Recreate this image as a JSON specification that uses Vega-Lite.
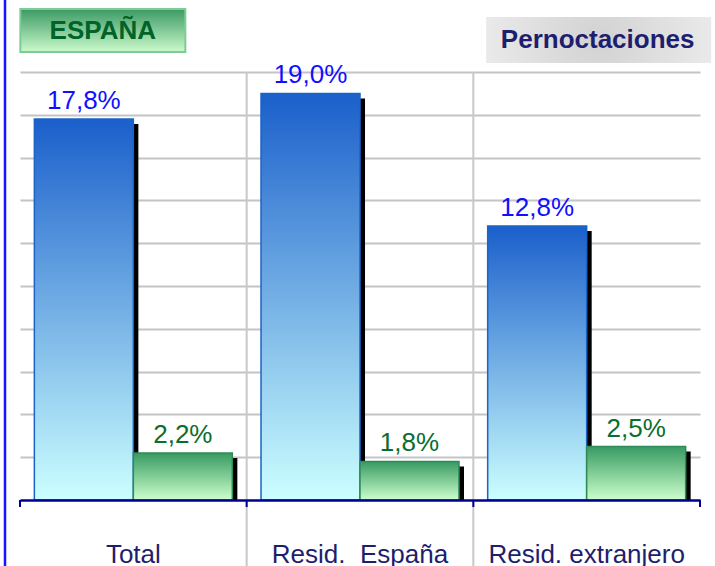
{
  "$schema": "https://vega.github.io/schema/vega-lite/v6.json",
  "width": 680,
  "height": 428,
  "autosize": "none",
  "padding": {"left": 20, "top": 72, "right": 15, "bottom": 66},
  "background": "white",
  "config": {"view": {"stroke": null}, "font": "Liberation Sans"},
  "datasets": {
    "barras": [
      {"cat": "Total", "serie": "A", "valor": 17.8, "etiqueta": "17,8%"},
      {"cat": "Total", "serie": "B", "valor": 2.2, "etiqueta": "2,2%"},
      {"cat": "Resid.\u00a0 España", "serie": "A", "valor": 19.0, "etiqueta": "19,0%"},
      {"cat": "Resid.\u00a0 España", "serie": "B", "valor": 1.8, "etiqueta": "1,8%"},
      {"cat": "Resid. extranjero", "serie": "A", "valor": 12.8, "etiqueta": "12,8%"},
      {"cat": "Resid. extranjero", "serie": "B", "valor": 2.5, "etiqueta": "2,5%"}
    ],
    "notas": [
      {"cat": "Total", "texto": "ESPAÑA"},
      {"cat": "Resid. extranjero", "texto": "Pernoctaciones"}
    ]
  },
  "resolve": {"scale": {"xOffset": "independent"}},
  "layer": [
    {
      "data": {"name": "barras"},
      "transform": [{"filter": "datum.serie == 'A' && datum.cat != 'Total'"}],
      "mark": {"type": "rule", "color": "#C8C8C8", "strokeWidth": 2},
      "encoding": {
        "x": {
          "field": "cat", "type": "nominal", "bandPosition": 0,
          "scale": {"domain": ["Total", "Resid.\u00a0 España", "Resid. extranjero"], "paddingInner": 0, "paddingOuter": 0},
          "axis": {
            "title": null, "grid": false, "ticks": false, "bandPosition": 0.5,
            "domainColor": "#000090", "domainWidth": 2.5,
            "labelFontSize": 26, "labelColor": "#1E1E6E", "labelPadding": 41,
            "labelAngle": 0, "labelLimit": 0, "zindex": 1
          }
        },
        "y": {
          "datum": 20,
          "scale": {"domain": [0, 20], "nice": false},
          "axis": {
            "title": null, "domain": false, "ticks": false, "labels": false,
            "grid": true, "gridColor": "#C4C4C4", "gridWidth": 2,
            "values": [2, 4, 6, 8, 10, 12, 14, 16, 18, 20]
          }
        },
        "y2": {"datum": -3.2}
      }
    },
    {
      "data": {"name": "barras"},
      "transform": [{"filter": "datum.cat == 'Total' && datum.serie == 'A'"}],
      "mark": {"type": "rule", "color": "#1515FF", "strokeWidth": 2.5, "xOffset": -15},
      "encoding": {
        "x": {"field": "cat", "type": "nominal", "bandPosition": 0},
        "y": {"datum": 23.5},
        "y2": {"datum": -3.2}
      }
    },
    {
      "data": {"name": "barras"},
      "mark": {"type": "bar", "color": "black", "yOffset": 5},
      "encoding": {
        "x": {"field": "cat", "type": "nominal"},
        "xOffset": {
          "field": "serie", "type": "nominal",
          "scale": {"domain": ["A", "B"], "paddingInner": 0, "paddingOuter": 0.145, "align": 0.675}
        },
        "y": {"field": "valor", "type": "quantitative"},
        "y2": {"datum": 0}
      }
    },
    {
      "layer": [
        {
          "data": {"name": "barras"},
          "transform": [{"filter": "datum.serie == 'A'"}],
          "mark": {
            "type": "bar",
            "stroke": "#1A64C8",
            "strokeWidth": 1.5,
            "fill": {
              "gradient": "linear", "x1": 0, "y1": 0, "x2": 0, "y2": 1,
              "stops": [
                {"offset": 0, "color": "#1A5FCB"},
                {"offset": 1, "color": "#CCFFFF"}
              ]
            }
          },
          "encoding": {
            "x": {"field": "cat", "type": "nominal"},
            "xOffset": {
              "field": "serie", "type": "nominal",
              "scale": {"domain": ["A", "B"], "paddingInner": 0, "paddingOuter": 0.145}
            },
            "y": {"field": "valor", "type": "quantitative"}
          }
        },
        {
          "data": {"name": "barras"},
          "transform": [{"filter": "datum.serie == 'B'"}],
          "mark": {
            "type": "bar",
            "stroke": "#2E8B57",
            "strokeWidth": 1.5,
            "fill": {
              "gradient": "linear", "x1": 0, "y1": 0, "x2": 0, "y2": 1,
              "stops": [
                {"offset": 0, "color": "#389A62"},
                {"offset": 1, "color": "#CCFFCC"}
              ]
            }
          },
          "encoding": {
            "x": {"field": "cat", "type": "nominal"},
            "xOffset": {"field": "serie", "type": "nominal"},
            "y": {"field": "valor", "type": "quantitative"}
          }
        },
        {
          "data": {"name": "barras"},
          "mark": {"type": "text", "baseline": "alphabetic", "dy": -10, "fontSize": 26},
          "encoding": {
            "x": {"field": "cat", "type": "nominal"},
            "xOffset": {"field": "serie", "type": "nominal"},
            "y": {"field": "valor", "type": "quantitative"},
            "text": {"field": "etiqueta"},
            "color": {
              "field": "serie", "type": "nominal",
              "scale": {"domain": ["A", "B"], "range": ["#1010FF", "#0A6E2E"]},
              "legend": null
            }
          }
        }
      ]
    },
    {
      "data": {"name": "barras"},
      "transform": [{"filter": "datum.serie == 'A'"}],
      "mark": {"type": "rule", "color": "#000090", "strokeWidth": 2},
      "encoding": {
        "x": {"field": "cat", "type": "nominal", "bandPosition": 0},
        "y": {"datum": 0},
        "y2": {"datum": -0.33}
      }
    },
    {
      "data": {"name": "barras"},
      "transform": [{"filter": "datum.serie == 'A' && datum.cat == 'Resid. extranjero'"}],
      "mark": {"type": "rule", "color": "#000090", "strokeWidth": 2},
      "encoding": {
        "x": {"field": "cat", "type": "nominal", "bandPosition": 1},
        "y": {"datum": 0},
        "y2": {"datum": -0.33}
      }
    },
    {
      "data": {"name": "notas"},
      "transform": [{"filter": "datum.texto == 'ESPAÑA'"}],
      "mark": {
        "type": "rect", "width": 165, "xOffset": -30.5,
        "stroke": "#7CCC94", "strokeWidth": 2,
        "fill": {
          "gradient": "linear", "x1": 0, "y1": 0, "x2": 0, "y2": 1,
          "stops": [
            {"offset": 0, "color": "#3C9A64"},
            {"offset": 1, "color": "#CCFACC"}
          ]
        }
      },
      "encoding": {
        "x": {"field": "cat", "type": "nominal"},
        "y": {"datum": 22.94},
        "y2": {"datum": 20.93}
      }
    },
    {
      "data": {"name": "notas"},
      "transform": [{"filter": "datum.texto == 'ESPAÑA'"}],
      "mark": {
        "type": "text", "xOffset": -30.5, "fontSize": 26, "fontWeight": "bold",
        "color": "#00642A", "baseline": "middle"
      },
      "encoding": {
        "x": {"field": "cat", "type": "nominal"},
        "y": {"datum": 21.93},
        "text": {"field": "texto"}
      }
    },
    {
      "data": {"name": "notas"},
      "transform": [{"filter": "datum.texto == 'Pernoctaciones'"}],
      "mark": {
        "type": "rect", "width": 225, "xOffset": 12,
        "fill": {
          "gradient": "radial", "x1": 0.5, "y1": 0.5, "r1": 0, "x2": 0.5, "y2": 0.5, "r2": 0.6,
          "stops": [
            {"offset": 0, "color": "#D2D2D2"},
            {"offset": 1, "color": "#EEEEEE"}
          ]
        }
      },
      "encoding": {
        "x": {"field": "cat", "type": "nominal"},
        "y": {"datum": 22.57},
        "y2": {"datum": 20.42}
      }
    },
    {
      "data": {"name": "notas"},
      "transform": [{"filter": "datum.texto == 'Pernoctaciones'"}],
      "mark": {
        "type": "text", "xOffset": 11, "fontSize": 26, "fontWeight": "bold",
        "color": "#1E1E6E", "baseline": "middle"
      },
      "encoding": {
        "x": {"field": "cat", "type": "nominal"},
        "y": {"datum": 21.5},
        "text": {"field": "texto"}
      }
    }
  ]
}
